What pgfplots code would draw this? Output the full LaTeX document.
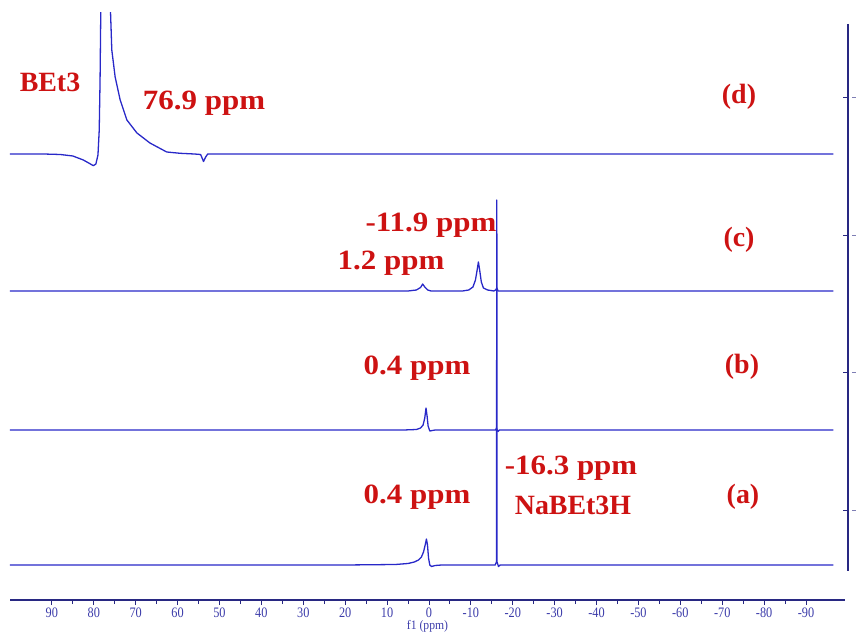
\documentclass[border=0pt]{standalone}
\usepackage{pgfplots}
\pgfplotsset{compat=1.18}
\usepackage{fontspec}
\setmainfont{Liberation Serif}
\definecolor{specblue}{RGB}{40,40,200}
\definecolor{axisblue}{RGB}{40,40,130}
\definecolor{ticklab}{RGB}{60,60,170}
\definecolor{labred}{RGB}{205,18,18}
\begin{document}
\begin{tikzpicture}
\useasboundingbox (0,0) rectangle (856bp,637bp);
\begin{axis}[
  at={(10bp,37bp)}, anchor=south west,
  scale only axis, width=835bp, height=587bp,
  x dir=reverse, xmin=-99.3, xmax=100, ymin=0, ymax=587,
  axis x line=bottom, axis y line=none,
  axis line style={draw=axisblue, line width=1.2pt, -},
  xtick={-90,-80,...,90}, minor x tick num=1,
  tick align=outside, major tick length=5bp, minor tick length=4bp,
  tick style={draw=axisblue, line width=0.9pt},
  ytick=\empty,
  x tick label style={font=\fontsize{14.5}{15}\selectfont, text=ticklab, /pgf/number format/assume math mode=true, xscale=0.85, yshift=1bp},
  xlabel={f1 (ppm)},
  xlabel style={font=\fontsize{13}{14}\selectfont, text=ticklab, xscale=0.9, yshift=4bp},
  clip=true,
]
% (a)
\addplot[specblue, no marks, line width=1.3pt, line join=round] coordinates {(100,35) (20,35) (8,35.5) (5,36.5) (3.5,38) (2.5,40) (1.8,43) (1.3,48) (0.9,55) (0.6,61) (0.35,55) (0.1,42) (-0.2,35) (-0.6,33.5) (-1.5,34.5) (-3,35) (-15.8,35) (-16.1,38) (-16.2,400) (-16.25,38) (-16.6,33.5) (-17,35) (-96.5,35)};
% (b)
\addplot[specblue, no marks, line width=1.3pt, line join=round] coordinates {(100,170) (6,170) (3,170.5) (2,172) (1.4,175) (1.0,182) (0.7,192) (0.45,184) (0.2,174) (-0.2,169) (-0.8,169.5) (-1.5,170) (-15.9,170) (-16.1,172) (-16.3,170) (-16.5,168.5) (-16.8,170) (-96.5,170)};
% (c)
\addplot[specblue, no marks, line width=1.3pt, line join=round] coordinates {(100,309) (5,309) (3,310) (2,312.5) (1.5,316) (1,313) (0.3,310) (-0.5,309) (-8,309) (-9.5,310) (-10.5,313) (-11.1,320) (-11.5,330) (-11.8,338) (-12.1,330) (-12.5,318) (-13,312) (-14,310) (-15.5,309) (-15.9,310) (-16.2,312) (-16.5,309) (-96.5,309)};
% (d)
\addplot[specblue, no marks, line width=1.3pt, line join=round] coordinates {(100,446) (92,446) (88,445.5) (85,444) (82.5,440) (81,436.5) (80.1,434.3) (79.5,436) (79.0,445) (78.7,470) (78.5,520) (78.3,600) (78.0,700) (77.2,800) (76.4,700) (76.1,600) (75.7,550) (74.9,523) (73.7,500) (72.1,480) (69.7,467) (66.6,457) (62.6,448) (59.4,446.7) (56,446) (54.5,445.5) (53.8,438.5) (53.3,443) (52.8,446) (-96.5,446)};
\end{axis}
\begin{scope}[x=1bp,y=-1bp,shift={(0,637bp)}]
  \draw[axisblue, line width=1.1pt] (848,24) -- (848,571);
  \foreach \yy in {97,235,372,510} {
    \draw[axisblue, line width=0.8pt] (848,\yy) -- (843,\yy);
    \draw[axisblue!60, line width=0.8pt] (852,\yy) -- (856,\yy);
  }
  \tikzset{lab/.style={text=labred, font=\fontsize{28}{30}\selectfont\bfseries, inner sep=0pt},
           plab/.style={lab, xscale=1.11}}
  \node[lab] at (50,82) {BEt3};
  \node[plab] at (204,103) {76.9 ppm};
  \node[lab] at (739,97) {(d)};
  \node[plab] at (431,225) {-11.9 ppm};
  \node[lab] at (739,240) {(c)};
  \node[plab] at (391,263) {1.2 ppm};
  \node[lab] at (742,367) {(b)};
  \node[plab] at (417,368) {0.4 ppm};
  \node[plab] at (571,468) {-16.3 ppm};
  \node[lab] at (573,505) {NaBEt3H};
  \node[lab] at (743,497) {(a)};
  \node[plab] at (417,497) {0.4 ppm};
\end{scope}
\end{tikzpicture}
\end{document}
